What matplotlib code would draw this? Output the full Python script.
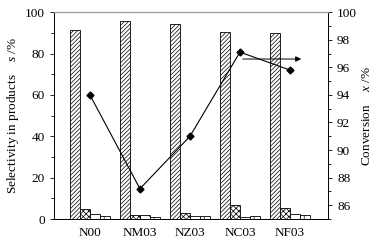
import numpy as np
import matplotlib.pyplot as plt
from matplotlib.ticker import MultipleLocator

plt.rcParams['font.family'] = ['Liberation Serif', 'DejaVu Serif']
plt.rcParams['mathtext.fontset'] = 'custom'
plt.rcParams['mathtext.rm'] = 'Liberation Serif'
plt.rcParams['mathtext.it'] = 'Liberation Serif:italic'
plt.rcParams['hatch.linewidth'] = 0.5

catalysts = ['N00', 'NM03', 'NZ03', 'NC03', 'NF03']
sel_main = [91.2, 95.6, 94.2, 90.6, 90.1]
sel_b = [4.8, 2.1, 3.0, 6.8, 5.5]
sel_c = [2.7, 2.0, 1.5, 0.8, 2.7]
sel_d = [1.6, 0.8, 1.3, 1.6, 2.1]
conversion = [94.0, 87.2, 91.0, 97.1, 95.8]

x = np.arange(len(catalysts))
w = 0.2

fig = plt.figure(figsize=(3.77, 2.47), dpi=100)
ax = fig.add_axes([0.143, 0.113, 0.727, 0.838])

series = [(sel_main, '////////'), (sel_b, 'xxxxxx'), (sel_c, '\\'), (sel_d, '||')]
for i, (vals, hatch) in enumerate(series):
    ax.bar(x + (i - 1.5) * w, vals, w, facecolor='white', edgecolor='black',
           linewidth=0.6, hatch=hatch)

ax.set_xlim(-0.72, 4.76)
ax.set_ylim(0, 100)
ax.yaxis.set_major_locator(MultipleLocator(20))
ax.yaxis.set_minor_locator(MultipleLocator(10))
ax.set_xticks(x)
ax.set_xticklabels(catalysts, fontsize=9.5)
ax.tick_params(axis='x', length=0, pad=6)
ax.tick_params(axis='y', labelsize=9.5, width=0.6, length=3)
ax.tick_params(axis='y', which='minor', width=0.6, length=2)
ax.set_ylabel('Selectivity in products    $s$ /%', fontsize=9.5, labelpad=3)
ax.spines['top'].set_color('0.6')
for s in ['left', 'bottom', 'right']:
    ax.spines[s].set_linewidth(0.6)

ax2 = ax.twinx()
ax2.plot(x, conversion, color='black', linewidth=0.8, marker='D', markersize=3.5)
ax2.annotate('', xy=(4.28, 96.6), xytext=(3.0, 96.6),
             arrowprops=dict(arrowstyle='-|>', color='black', lw=0.7,
                             mutation_scale=8))
ax2.set_ylim(85, 100)
ax2.yaxis.set_major_locator(MultipleLocator(2))
ax2.yaxis.set_minor_locator(MultipleLocator(1))
ax2.tick_params(axis='y', labelsize=9.5, width=0.6, length=3)
ax2.tick_params(axis='y', which='minor', width=0.6, length=2)
ax2.set_ylabel('Conversion    $x$ /%', fontsize=9.5, labelpad=3)
ax2.spines['top'].set_color('0.6')
for s in ['left', 'bottom', 'right']:
    ax2.spines[s].set_linewidth(0.6)

fig.savefig('out.png', dpi=100)
